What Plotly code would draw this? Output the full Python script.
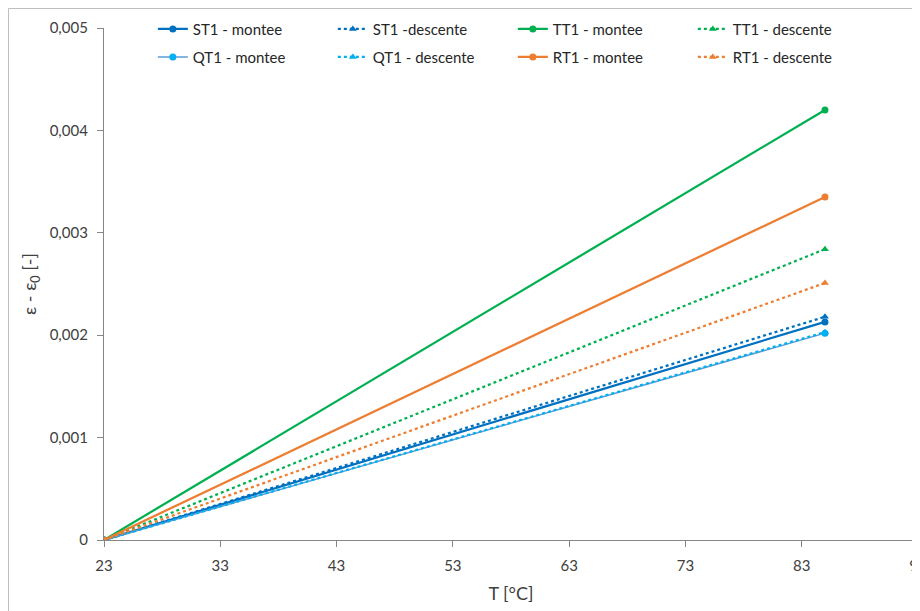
import plotly.graph_objects as go

temps = [23, 85]
st1_montee = [0, 0.00213]
st1_descente = [0, 0.00218]
tt1_montee = [0, 0.00420]
tt1_descente = [0, 0.00284]
qt1_montee = [0, 0.00202]
qt1_descente = [0, 0.00203]
rt1_montee = [0, 0.00335]
rt1_descente = [0, 0.00251]

x_ticks = [23, 33, 43, 53, 63, 73, 83, 93]
y_ticks = [0, 0.001, 0.002, 0.003, 0.004, 0.005]
y_ticklabels = ["0", "0,001", "0,002", "0,003", "0,004", "0,005"]

series = [
    ("ST1 - montee", st1_montee, "#0070C0", "#0070C0", "solid", "circle", "legend"),
    ("ST1 -descente", st1_descente, "#0070C0", "#0070C0", "dot", "triangle-up", "legend"),
    ("TT1 - montee", tt1_montee, "#00B050", "#00B050", "solid", "circle", "legend"),
    ("TT1 - descente", tt1_descente, "#00B050", "#00B050", "dot", "triangle-up", "legend"),
    ("QT1 - montee", qt1_montee, "#5B9BD5", "#00B0F0", "solid", "circle", "legend2"),
    ("QT1 - descente", qt1_descente, "#00B0F0", "#00B0F0", "dot", "triangle-up", "legend2"),
    ("RT1 - montee", rt1_montee, "#ED7D31", "#ED7D31", "solid", "circle", "legend2"),
    ("RT1 - descente", rt1_descente, "#ED7D31", "#ED7D31", "dot", "triangle-up", "legend2"),
]

fig = go.Figure()
for name, vals, lc, mc, dash, sym, leg in series:
    fig.add_trace(go.Scatter(
        x=temps, y=vals, name=name, mode="lines+markers", legend=leg,
        line=dict(color=lc, width=1.5 if name == "QT1 - montee" else 2.25, dash=dash),
        marker=dict(color=mc, size=7, symbol=sym),
    ))

leg_common = dict(orientation="h", x=0.060, xanchor="left", yanchor="top",
                  entrywidth=135, entrywidthmode="pixels",
                  font=dict(size=15, color="#262626"), bgcolor="rgba(0,0,0,0)",
                  itemwidth=30)

fig.update_layout(
    width=912, height=603,
    margin=dict(l=96, r=2, t=20, b=71, autoexpand=False),
    paper_bgcolor="white", plot_bgcolor="white",
    font=dict(family="Lato, Open Sans, sans-serif", size=15, color="#404040"),
    showlegend=True,
    legend=dict(y=1.03, **leg_common),
    legend2=dict(y=1.03 - 28 / 512, **leg_common),
    xaxis=dict(range=[23, 93], tickvals=x_ticks, showgrid=False, zeroline=False,
               showline=True, linecolor="#868686", linewidth=1.3,
               ticks="outside", ticklen=6, tickcolor="#868686", ticklabelstandoff=6,
               ticklabeloverflow="allow",
               title=dict(text="T [°C]", standoff=14), automargin=False),
    yaxis=dict(range=[0, 0.005], tickvals=y_ticks, ticktext=y_ticklabels,
               showgrid=False, zeroline=False, showline=True, linecolor="#868686",
               linewidth=1.3, ticks="outside", ticklen=6, tickcolor="#868686",
               ticklabelstandoff=6, ticklabeloverflow="allow",
               title=dict(text="ε - ε<sub>0</sub> [-]", standoff=8), automargin=False),
    shapes=[dict(type="rect", xref="paper", yref="paper",
                 x0=-95.5 / 814, x1=1.01, y0=-75 / 512, y1=1 + 19.5 / 512,
                 line=dict(color="#BFBFBF", width=1), layer="below")],
)

fig.write_html("out.html")
